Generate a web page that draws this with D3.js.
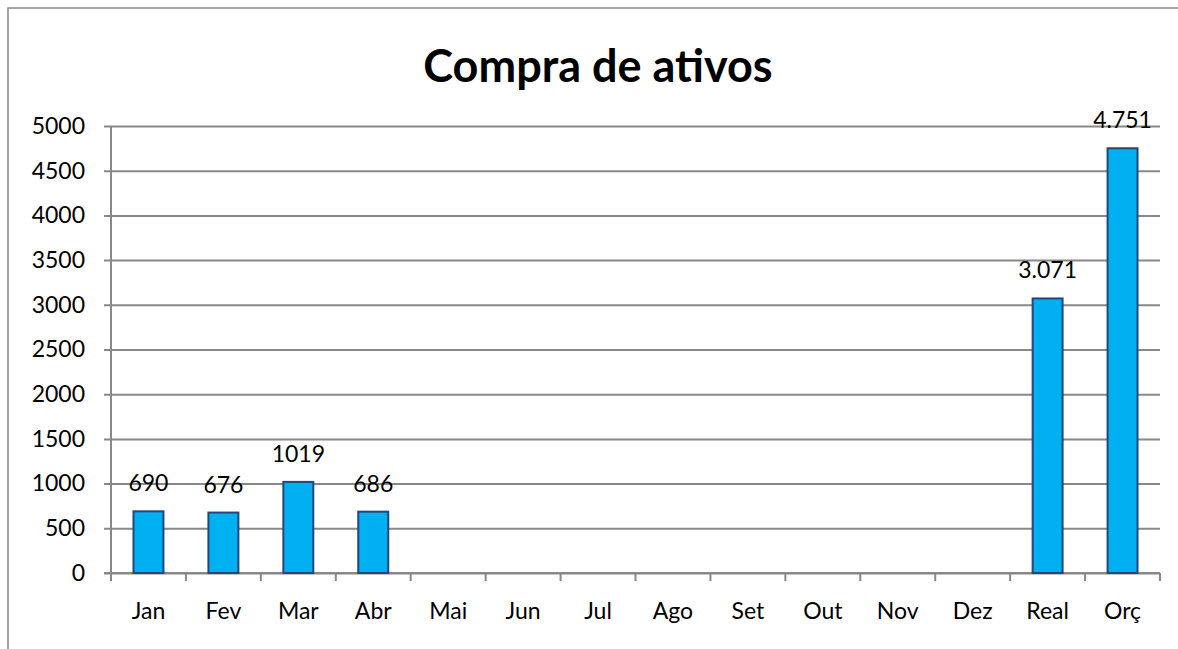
<!DOCTYPE html>
<html>
<head>
<meta charset="utf-8">
<script src="https://cdn.jsdelivr.net/npm/d3@7"></script>
<style>
  html, body { margin: 0; padding: 0; background: #fff; overflow: hidden; }
  svg { display: block; overflow: hidden; font-family: Lato, "Open Sans", sans-serif; }
</style>
</head>
<body>
<div id="chart"></div>
<script>
// chart data
const categories = ['Jan', 'Fev', 'Mar', 'Abr', 'Mai', 'Jun', 'Jul', 'Ago', 'Set', 'Out', 'Nov', 'Dez', 'Real', 'Orç'];
const values = [690, 676, 1019, 686, null, null, null, null, null, null, null, null, 3071, 4751];
const valueLabels = ['690', '676', '1019', '686', '', '', '', '', '', '', '', '', '3.071', '4.751'];
const yTicks = [0, 500, 1000, 1500, 2000, 2500, 3000, 3500, 4000, 4500, 5000];
const title = 'Compra de ativos';

// set the dimensions and margins of the graph
const W = 1178, H = 649;
const margin = { top: 126, right: 18, bottom: 76, left: 111 };
const width = W - margin.left - margin.right;
const height = H - margin.top - margin.bottom;

const svg = d3.select('#chart').append('svg')
  .attr('width', W)
  .attr('height', H);

// outer chart frame (cropped on the right and bottom), only left and top edges show
svg.append('path')
  .attr('d', `M8,${H}V8H${W}`)
  .attr('fill', 'none')
  .attr('stroke', '#888')
  .attr('stroke-width', 1.5);

svg.append('text')
  .attr('x', 598).attr('y', 82)
  .attr('text-anchor', 'middle')
  .attr('font-weight', 'bold')
  .attr('font-size', 45)
  .attr('fill', '#000')
  .text(title);

const chart = svg.append('g')
  .attr('transform', `translate(${margin.left}, ${margin.top})`);

const x = d3.scaleBand()
  .domain(categories)
  .range([0, width])
  .paddingInner(0.6)
  .paddingOuter(0.3);

const y = d3.scaleLinear()
  .domain([0, 5000])
  .range([height, 0]);

// gridlines + y axis
const yAxis = chart.append('g')
  .call(d3.axisLeft(y).tickValues(yTicks).tickFormat(d3.format('d')).tickSizeOuter(0).tickPadding(19));
yAxis.select('.domain').remove();
yAxis.selectAll('.tick line')
  .attr('x1', -7)
  .attr('x2', width)
  .attr('stroke', '#888')
  .attr('stroke-width', 2);
yAxis.selectAll('.tick text')
  .attr('x', -26)
  .attr('font-size', 23)
  .attr('font-family', 'Lato, "Open Sans", sans-serif')
  .attr('fill', '#000');

// vertical axis line
chart.append('line')
  .attr('x1', 0).attr('x2', 0)
  .attr('y1', 0).attr('y2', height)
  .attr('stroke', '#888')
  .attr('stroke-width', 2);

// x axis ticks between categories
const step = x.step();
const boundaries = d3.range(categories.length + 1).map(i => i * step);
chart.append('g')
  .selectAll('line')
  .data(boundaries)
  .enter().append('line')
  .attr('x1', d => d).attr('x2', d => d)
  .attr('y1', height).attr('y2', height + 8)
  .attr('stroke', '#888')
  .attr('stroke-width', 2);

chart.append('line')
  .attr('x1', -7).attr('x2', width)
  .attr('y1', height).attr('y2', height)
  .attr('stroke', '#888')
  .attr('stroke-width', 2);

// category labels
chart.append('g')
  .selectAll('text')
  .data(categories)
  .enter().append('text')
  .attr('x', d => x(d) + x.bandwidth() / 2)
  .attr('y', height + 46)
  .attr('text-anchor', 'middle')
  .attr('font-size', 23)
  .attr('fill', '#000')
  .text(d => d);

const data = categories.map((c, i) => ({ cat: c, value: values[i], label: valueLabels[i] }))
  .filter(d => d.value != null);

// bars
chart.selectAll('.bar')
  .data(data)
  .enter().append('rect')
  .attr('class', 'bar')
  .attr('x', d => x(d.cat))
  .attr('width', x.bandwidth())
  .attr('y', d => y(d.value))
  .attr('height', d => height - y(d.value))
  .attr('fill', '#00B0F0')
  .attr('stroke', '#24467A')
  .attr('stroke-width', 2);

// value labels
chart.selectAll('.val')
  .data(data)
  .enter().append('text')
  .attr('class', 'val')
  .attr('x', d => x(d.cat) + x.bandwidth() / 2)
  .attr('y', d => y(d.value) - 20)
  .attr('text-anchor', 'middle')
  .attr('font-size', 23)
  .attr('fill', '#000')
  .text(d => d.label);
</script>
</body>
</html>
